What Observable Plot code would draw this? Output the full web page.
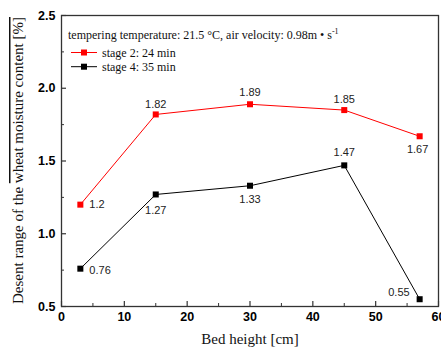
<!DOCTYPE html>
<html><head><meta charset="utf-8">
<script src="https://cdn.jsdelivr.net/npm/d3@7"></script>
<script src="https://cdn.jsdelivr.net/npm/@observablehq/plot@0.6"></script>
<style>
body{margin:0;background:#fff;}
#chart svg{display:block;overflow:hidden;background:#fff;}
g[aria-label="x-axis tick label"] text, g[aria-label="y-axis tick label"] text{font-weight:bold;font-family:"Liberation Sans",Arial,sans-serif;font-size:12.5px;fill:#000;}
</style></head><body><div id="chart"></div>
<script>
const bedHeight = [3, 15, 30, 45, 57];
const stage2 = [1.2, 1.82, 1.89, 1.85, 1.67];
const stage4 = [0.76, 1.27, 1.33, 1.47, 0.55];
const seriesNames = ["stage 2: 24 min", "stage 4: 35 min"];
const seriesColors = ["#ff0000", "#000000"];
const xTicks = [0, 10, 20, 30, 40, 50, 60];
const xMinor = [5, 15, 25, 35, 45, 55];
const yTicks = [0.5, 1.0, 1.5, 2.0, 2.5];
const yMinor = [0.75, 1.25, 1.75, 2.25];
const legendTitle = "tempering temperature: 21.5 °C, air velocity: 0.98m • s";
const legendSup = "-1";
const xLabel = "Bed height [cm]";
const yLabelPlain = "Desent range of the ";
const yLabelOver = "wheat moisture content [%]";

// label placements (dx, dy, anchor) per point — styling only
const place2 = [[9,0,"start"],[0,-10,"middle"],[0,-12,"middle"],[0,-11,"middle"],[-2,13,"middle"]];
const place4 = [[9,2,"start"],[0,16,"middle"],[0,14,"middle"],[0,-13,"middle"],[-10,-7,"end"]];

const rows = [];
bedHeight.forEach((h,i)=>{
  rows.push({x:h, y:stage2[i], s:seriesNames[0], p:place2[i]});
  rows.push({x:h, y:stage4[i], s:seriesNames[1], p:place4[i]});
});

const W=441, H=348, mL=61, mR=3, mT=15, mB=42;
const plotH = H-mT-mB, plotW = W-mL-mR;

const labelMarks = [];
for (const anchor of ["start","middle","end"]) {
  const d = rows.filter(r=>r.p[2]===anchor);
  const groups = d3.groups(d, r=>r.p[0]+","+r.p[1]);
  for (const [k, g] of groups) {
    labelMarks.push(Plot.text(g, {x:"x", y:"y", text:r=>String(r.y), dx:g[0].p[0], dy:g[0].p[1], textAnchor:anchor,
      fontSize:11, fontFamily:"Liberation Sans, Arial, sans-serif", fill:"#222"}));
  }
}

const chart = Plot.plot({
  width: W, height: H,
  marginLeft: mL, marginRight: mR, marginTop: mT, marginBottom: mB,
  x: {domain:[0,60]},
  y: {domain:[0.5,2.5]},
  color: {domain: seriesNames, range: seriesColors},
  marks: [
    Plot.axisX({ticks: xTicks, tickSize: 0, tickPadding: 6, tickFormat: d=>String(d), label:null}),
    Plot.axisY({ticks: yTicks, tickSize: 0, tickPadding: 6, tickFormat: d=>d.toFixed(1), label:null}),
    Plot.tickX(xTicks, {x:d=>d, insetTop: plotH-5, stroke:"#333", strokeWidth:1.2}),
    Plot.tickX(xMinor, {x:d=>d, insetTop: plotH-3, stroke:"#333", strokeWidth:1}),
    Plot.tickY(yTicks, {y:d=>d, insetRight: plotW-5, stroke:"#333", strokeWidth:1.2}),
    Plot.tickY(yMinor, {y:d=>d, insetRight: plotW-3, stroke:"#333", strokeWidth:1}),
    Plot.frame({stroke:"#333", strokeWidth:1.3}),
    Plot.line(rows, {x:"x", y:"y", z:"s", stroke:"s", strokeWidth:1}),
    Plot.dot(rows, {x:"x", y:"y", fill:"s", symbol:"square", r:3.4, stroke:"none"}),
    ...labelMarks,
    Plot.text([xLabel], {frameAnchor:"bottom", dy:37, text:d=>d, fontFamily:"Liberation Serif, Times New Roman, serif", fontSize:15, fill:"#111", lineAnchor:"bottom"})
  ]
});

const svg = d3.select(chart);
// y label with overline
const yl = svg.append("text")
  .attr("transform", `translate(23,${mT+plotH/2}) rotate(-90)`)
  .attr("text-anchor","middle")
  .style("font-family","Liberation Serif, Times New Roman, serif")
  .style("font-size","15px").style("fill","#111");
yl.append("tspan").text(yLabelPlain);
yl.append("tspan").text(yLabelOver).style("text-decoration","overline");

// legend
const lg = svg.append("g").attr("text-anchor","start").style("font-family","Liberation Serif, Times New Roman, serif").style("font-size","12px");
const t = lg.append("text").attr("x",68).attr("y",39).attr("text-anchor","start").style("fill","#111");
t.append("tspan").text(legendTitle);
t.append("tspan").text(legendSup).attr("dy",-5).style("font-size","8px");
seriesNames.forEach((n,i)=>{
  const cy = 52.5 + i*14.2;
  lg.append("line").attr("x1",71).attr("x2",97).attr("y1",cy).attr("y2",cy).attr("stroke",seriesColors[i]).attr("stroke-width",1);
  lg.append("rect").attr("x",81).attr("y",cy-3).attr("width",6).attr("height",6).attr("fill",seriesColors[i]);
  lg.append("text").attr("x",102).attr("y",cy+4).attr("text-anchor","start").text(n).style("fill","#111");
});

document.getElementById("chart").appendChild(chart);
</script></body></html>
